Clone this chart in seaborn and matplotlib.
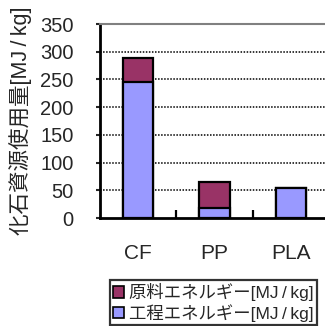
import matplotlib
matplotlib.use("Agg")
import matplotlib.pyplot as plt
import seaborn as sns
import pandas as pd
from matplotlib.patches import Patch

# Fossil resource use per material, split into process and feedstock energy
categories = ["CF", "PP", "PLA"]
process_energy = [246, 18, 54]      # 工程エネルギー [MJ/kg]
feedstock_energy = [42, 47, 0]      # 原料エネルギー [MJ/kg]
yticks = [0, 50, 100, 150, 200, 250, 300, 350]

label_feed = "原料エネルギー[MJ\u2009/\u2009kg]"
label_proc = "工程エネルギー[MJ\u2009/\u2009kg]"
ylabel = "化石資源使用量[MJ\u2009/\u2009kg]"

col_feed = "#993366"
col_proc = "#9999FF"

sns.set_style("white")
plt.rcParams["font.family"] = ["Liberation Sans", "Noto Sans CJK JP"]

df = pd.DataFrame({
    "material": categories,
    "process": process_energy,
    "total": [p + f for p, f in zip(process_energy, feedstock_energy)],
})

fig = plt.figure(figsize=(3.25, 3.26), dpi=100)
ax = fig.add_axes([100 / 325, 108 / 326, 229 / 325, 194 / 326])

bar_kw = dict(width=0.4, edgecolor="black", linewidth=1.6, saturation=1, ax=ax, zorder=3)
sns.barplot(data=df, x="material", y="total", color=col_feed, **bar_kw)
sns.barplot(data=df, x="material", y="process", color=col_proc, **bar_kw)

ax.set_xlim(-0.5, 2.5)
ax.set_ylim(0, 350)
ax.set_yticks(yticks)
ax.set_xlabel("")
ax.set_ylabel(ylabel, fontsize=15.5, labelpad=6)

# dotted gridlines, grey border line at the top
for v in yticks[1:-1]:
    ax.axhline(v, color="black", linestyle=(0, (1, 1)), linewidth=1.1, zorder=1)
ax.spines["right"].set_visible(False)
ax.spines["top"].set_color("#808080")
ax.spines["top"].set_linewidth(1.5)
for side in ["left", "bottom"]:
    ax.spines[side].set_color("black")
    ax.spines[side].set_linewidth(2)

ax.tick_params(axis="y", labelsize=14.5, length=3, width=1.5, direction="out", pad=16, left=True)
ax.tick_params(axis="x", labelsize=15, length=0, pad=19)
ax.set_xticks([0.5, 1.5], minor=True)
ax.tick_params(axis="x", which="minor", direction="in", length=6, width=1.6, bottom=True, color="black")

handles = [
    Patch(facecolor=col_feed, edgecolor="black", linewidth=1.2, label=label_feed),
    Patch(facecolor=col_proc, edgecolor="black", linewidth=1.2, label=label_proc),
]
leg = fig.legend(handles=handles, loc="lower left", bbox_to_anchor=(110 / 325, 1 / 326),
                 frameon=True, fancybox=False, fontsize=12.5, handlelength=0.6,
                 handleheight=0.6, handletextpad=0.3, borderpad=0.2, labelspacing=0.15,
                 borderaxespad=0)
leg.get_frame().set_edgecolor("black")
leg.get_frame().set_linewidth(1.6)

fig.savefig("out.png", dpi=100)
